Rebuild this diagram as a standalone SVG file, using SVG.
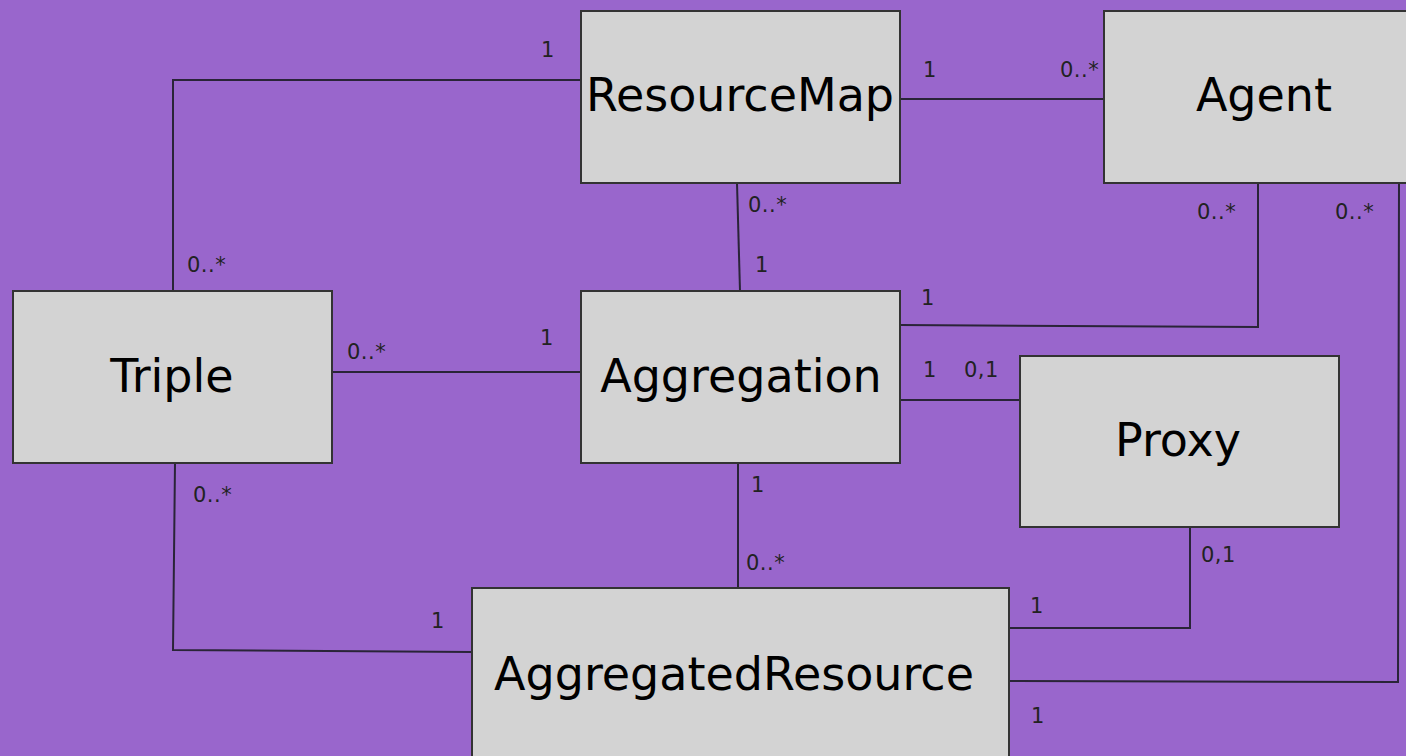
<svg xmlns="http://www.w3.org/2000/svg" width="1406" height="756" viewBox="0 0 1406 756">
<style>
.box{fill:#d3d3d3;stroke:#333;stroke-width:2}
.name{font-family:"DejaVu Sans",sans-serif;font-size:46px;fill:#000;text-anchor:middle}
.lbl{font-family:"DejaVu Sans",sans-serif;font-size:21px;fill:#222;letter-spacing:0.5px}
.con{fill:none;stroke:#2a2438;stroke-width:2}
</style>
<rect width="1406" height="756" fill="#9966cc"/>
<g id="connectors">
<polyline class="con" points="173,291 173,80 581,80"/>
<line class="con" x1="901" y1="99" x2="1104" y2="99"/>
<line class="con" x1="737" y1="183" x2="740" y2="291"/>
<polyline class="con" points="1258,183 1258,327 900,325"/>
<line class="con" x1="333" y1="372" x2="581" y2="372"/>
<line class="con" x1="900" y1="400" x2="1020" y2="400"/>
<line class="con" x1="738" y1="463" x2="738" y2="588"/>
<polyline class="con" points="175,463 173,650 472,652"/>
<polyline class="con" points="1190,527 1190,628 1009,628"/>
<polyline class="con" points="1399,183 1398,682 1009,681"/>
</g>
<g id="labels">
<text class="lbl" x="541" y="57">1</text>
<text class="lbl" x="187" y="272">0..*</text>
<text class="lbl" x="923" y="77">1</text>
<text class="lbl" x="1060" y="77">0..*</text>
<text class="lbl" x="748" y="212">0..*</text>
<text class="lbl" x="755" y="272">1</text>
<text class="lbl" x="1197" y="219">0..*</text>
<text class="lbl" x="1335" y="219">0..*</text>
<text class="lbl" x="921" y="305">1</text>
<text class="lbl" x="347" y="359">0..*</text>
<text class="lbl" x="540" y="345">1</text>
<text class="lbl" x="923" y="377">1</text>
<text class="lbl" x="964" y="377">0,1</text>
<text class="lbl" x="751" y="492">1</text>
<text class="lbl" x="746" y="570">0..*</text>
<text class="lbl" x="193" y="502">0..*</text>
<text class="lbl" x="431" y="628">1</text>
<text class="lbl" x="1201" y="562">0,1</text>
<text class="lbl" x="1030" y="613">1</text>
<text class="lbl" x="1031" y="723">1</text>
</g>
<g id="ResourceMap"><rect class="box" x="581" y="11" width="319" height="172"/><text class="name" x="740" y="111">ResourceMap</text></g>
<g id="Agent"><rect class="box" x="1104" y="11" width="320" height="172"/><text class="name" x="1264" y="111">Agent</text></g>
<g id="Triple"><rect class="box" x="13" y="291" width="319" height="172"/><text class="name" x="172" y="392">Triple</text></g>
<g id="Aggregation"><rect class="box" x="581" y="291" width="319" height="172"/><text class="name" x="741" y="392">Aggregation</text></g>
<g id="Proxy"><rect class="box" x="1020" y="356" width="319" height="171"/><text class="name" x="1178" y="456">Proxy</text></g>
<g id="AggregatedResource"><rect class="box" x="472" y="588" width="537" height="190"/><text class="name" x="734" y="690">AggregatedResource</text></g>
</svg>
